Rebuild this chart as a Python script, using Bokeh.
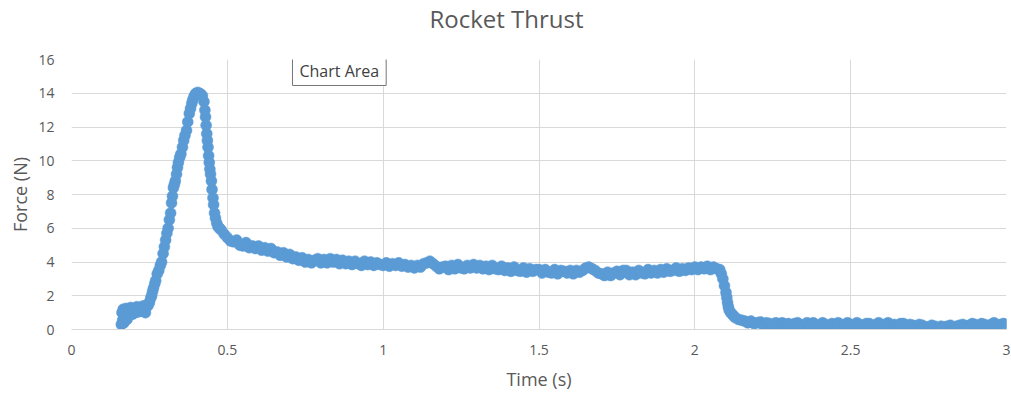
from bokeh.plotting import figure
from bokeh.models import FixedTicker, NumeralTickFormatter, Label, Title
from bokeh.embed import file_html
from bokeh.resources import INLINE

# ---------------- data ----------------
x_ticks = [0, 0.5, 1, 1.5, 2, 2.5, 3]
y_ticks = [0, 2, 4, 6, 8, 10, 12, 14, 16]

t_ignition = [0.160, 0.162, 0.164, 0.166, 0.168, 0.170, 0.172, 0.175, 0.178, 0.180,
              0.185, 0.190, 0.195, 0.200, 0.205, 0.210, 0.215, 0.220, 0.225, 0.230, 0.235]
f_ignition = [0.30, 1.00, 0.55, 1.20, 0.40, 1.10, 0.70, 1.25, 0.60, 1.20,
              0.85, 1.30, 0.90, 1.25, 1.00, 1.35, 1.05, 1.30, 1.10, 1.40, 1.10]

t_rise = [0.237, 0.241, 0.245, 0.250, 0.254, 0.257, 0.260, 0.263, 0.267, 0.270,
          0.275, 0.280, 0.285, 0.289, 0.294, 0.298, 0.302, 0.306, 0.310, 0.314,
          0.318, 0.321, 0.324, 0.327, 0.330, 0.333, 0.337, 0.340, 0.343, 0.347,
          0.351, 0.356, 0.360, 0.364, 0.369, 0.373, 0.378, 0.382, 0.386, 0.389,
          0.393, 0.397]
f_rise = [1.00, 1.45, 1.40, 1.60, 1.85, 2.00, 2.25, 2.45, 2.70, 2.90,
          3.30, 3.50, 3.80, 4.00, 4.50, 4.90, 5.30, 5.70, 6.00, 6.50,
          6.90, 7.50, 7.90, 8.40, 8.60, 8.80, 9.20, 9.60, 9.90, 10.20,
          10.40, 10.80, 11.20, 11.50, 11.80, 12.30, 12.80, 13.10, 13.40, 13.60,
          13.80, 13.95]

t_peak = [0.400, 0.405, 0.410, 0.415, 0.420, 0.425, 0.428, 0.430, 0.432, 0.434,
          0.436, 0.438, 0.440, 0.442, 0.444, 0.446, 0.449, 0.451, 0.454, 0.456,
          0.459, 0.462, 0.466, 0.470, 0.475]
f_peak = [14.00, 14.05, 14.00, 13.95, 13.85, 13.50, 13.00, 12.60, 12.10, 11.60,
          11.20, 10.80, 10.30, 9.90, 9.50, 9.20, 8.80, 8.30, 7.80, 7.40,
          6.90, 6.60, 6.30, 6.10, 6.00]

t_sustain = [0.48, 0.49,
             0.50, 0.51, 0.52, 0.53, 0.54, 0.55, 0.56, 0.57, 0.58, 0.59,
             0.60, 0.61, 0.62, 0.63, 0.64, 0.65, 0.66, 0.67, 0.68, 0.69,
             0.70, 0.71, 0.72, 0.73, 0.74, 0.75, 0.76, 0.77, 0.78, 0.79,
             0.80, 0.81, 0.82, 0.83, 0.84, 0.85, 0.86, 0.87, 0.88, 0.89,
             0.90, 0.91, 0.92, 0.93, 0.94, 0.95, 0.96, 0.97, 0.98, 0.99,
             1.00, 1.01, 1.02, 1.03, 1.04, 1.05, 1.06, 1.07, 1.08, 1.09,
             1.10, 1.11, 1.12, 1.13, 1.14, 1.15, 1.16, 1.17, 1.18, 1.19,
             1.20, 1.21, 1.22, 1.23, 1.24, 1.25, 1.26, 1.27, 1.28, 1.29,
             1.30, 1.31, 1.32, 1.33, 1.34, 1.35, 1.36, 1.37, 1.38, 1.39,
             1.40, 1.41, 1.42, 1.43, 1.44, 1.45, 1.46, 1.47, 1.48, 1.49,
             1.50, 1.51, 1.52, 1.53, 1.54, 1.55, 1.56, 1.57, 1.58, 1.59,
             1.60, 1.61, 1.62, 1.63, 1.64, 1.65, 1.66, 1.67, 1.68, 1.69,
             1.70, 1.71, 1.72, 1.73, 1.74, 1.75, 1.76, 1.77, 1.78, 1.79,
             1.80, 1.81, 1.82, 1.83, 1.84, 1.85, 1.86, 1.87, 1.88, 1.89,
             1.90, 1.91, 1.92, 1.93, 1.94, 1.95, 1.96, 1.97, 1.98, 1.99,
             2.00, 2.01, 2.02, 2.03, 2.04, 2.05, 2.06, 2.07]
f_sustain = [5.90, 5.65,
             5.45, 5.25, 5.20, 5.30, 5.00, 4.95, 5.15, 4.85, 4.95, 4.80,
             4.95, 4.70, 4.85, 4.65, 4.80, 4.55, 4.60, 4.40, 4.55, 4.30,
             4.45, 4.20, 4.30, 4.10, 4.25, 4.00, 4.15, 3.95, 4.10, 4.20,
             3.95, 4.15, 3.95, 4.20, 4.00, 4.15, 3.90, 4.10, 3.90, 4.05,
             3.85, 4.05, 3.90, 3.80, 4.05, 3.85, 4.00, 3.80, 3.95, 3.85,
             3.80, 3.95, 3.75, 3.90, 3.80, 3.95, 3.75, 3.85, 3.70, 3.80,
             3.65, 3.80, 3.70, 3.90, 3.95, 4.05, 3.90, 3.75, 3.60, 3.70,
             3.75, 3.55, 3.80, 3.60, 3.85, 3.65, 3.60, 3.80, 3.65, 3.85,
             3.65, 3.80, 3.60, 3.75, 3.55, 3.80, 3.60, 3.55, 3.75, 3.50,
             3.65, 3.45, 3.70, 3.50, 3.45, 3.65, 3.40, 3.60, 3.45, 3.55,
             3.55, 3.35, 3.55, 3.40, 3.35, 3.55, 3.30, 3.50, 3.45, 3.35,
             3.50, 3.30, 3.50, 3.40, 3.50, 3.65, 3.70, 3.60, 3.50, 3.35,
             3.30, 3.20, 3.40, 3.20, 3.35, 3.45, 3.25, 3.50, 3.50, 3.25,
             3.40, 3.25, 3.50, 3.35, 3.30, 3.55, 3.35, 3.50, 3.35, 3.55,
             3.40, 3.60, 3.45, 3.50, 3.65, 3.45, 3.60, 3.50, 3.65, 3.55,
             3.70, 3.55, 3.70, 3.60, 3.75, 3.55, 3.70, 3.60]

t_burnout = [2.080, 2.085, 2.090, 2.095, 2.100, 2.1025, 2.105, 2.1075, 2.110, 2.115,
             2.120, 2.125, 2.130, 2.140, 2.150]
f_burnout = [3.55, 3.30, 3.00, 2.60, 2.20, 1.90, 1.60, 1.35, 1.15, 1.00,
             0.90, 0.80, 0.70, 0.60, 0.55]

t_tail = [2.16, 2.17, 2.18, 2.19,
          2.20, 2.21, 2.22, 2.23, 2.24, 2.25, 2.26, 2.27, 2.28, 2.29,
          2.30, 2.31, 2.32, 2.33, 2.34, 2.35, 2.36, 2.37, 2.38, 2.39,
          2.40, 2.41, 2.42, 2.43, 2.44, 2.45, 2.46, 2.47, 2.48, 2.49,
          2.50, 2.51, 2.52, 2.53, 2.54, 2.55, 2.56, 2.57, 2.58, 2.59,
          2.60, 2.61, 2.62, 2.63, 2.64, 2.65, 2.66, 2.67, 2.68, 2.69,
          2.70, 2.71, 2.72, 2.73, 2.74, 2.75, 2.76, 2.77, 2.78, 2.79,
          2.80, 2.81, 2.82, 2.83, 2.84, 2.85, 2.86, 2.87, 2.88, 2.89,
          2.90, 2.91, 2.92, 2.93, 2.94, 2.95, 2.96, 2.97, 2.98, 2.99,
          3.00]
f_tail = [0.50, 0.40, 0.50, 0.35,
          0.40, 0.45, 0.25, 0.40, 0.35, 0.25, 0.40, 0.25, 0.40, 0.30,
          0.35, 0.20, 0.35, 0.40, 0.25, 0.25, 0.40, 0.30, 0.40, 0.25,
          0.25, 0.40, 0.30, 0.20, 0.35, 0.30, 0.40, 0.20, 0.30, 0.40,
          0.30, 0.20, 0.40, 0.30, 0.20, 0.35, 0.35, 0.20, 0.30, 0.40,
          0.25, 0.30, 0.40, 0.20, 0.30, 0.20, 0.35, 0.35, 0.20, 0.30,
          0.25, 0.15, 0.30, 0.25, 0.15, 0.15, 0.25, 0.20, 0.10, 0.20,
          0.15, 0.20, 0.25, 0.10, 0.20, 0.25, 0.30, 0.15, 0.25, 0.35,
          0.30, 0.20, 0.35, 0.30, 0.20, 0.30, 0.40, 0.25, 0.30, 0.35,
          0.30]

time_s = t_ignition + t_rise + t_peak + t_sustain + t_burnout + t_tail
force_n = f_ignition + f_rise + f_peak + f_sustain + f_burnout + f_tail

# ---------------- styling ----------------
FONT = "Open Sans"
TXT = "#595959"
GRID = "#d9d9d9"
BLUE = "#5b9bd5"

p = figure(width=1011, height=396, x_range=(0, 3), y_range=(0, 16), title=None,
           output_backend="svg", toolbar_location=None,
           min_border_left=71, min_border_right=5, min_border_top=59, min_border_bottom=67)

# blank (white) spacer panel next to the frame, then the real title above it
p.add_layout(Title(text=" ", text_font=FONT, text_font_size="15px", text_color="white",
                   standoff=1), "above")
p.add_layout(Title(text="Rocket Thrust", text_font=FONT, text_font_size="24px",
                   text_font_style="normal", text_color=TXT, align="left", offset=358,
                   vertical_align="top", standoff=0), "above")

p.outline_line_color = None
p.background_fill_color = "white"
p.border_fill_color = "white"

p.xaxis.ticker = FixedTicker(ticks=x_ticks)
p.yaxis.ticker = FixedTicker(ticks=y_ticks)
p.xaxis.formatter = NumeralTickFormatter(format="0.[0]")
p.xgrid.ticker = FixedTicker(ticks=x_ticks)
p.ygrid.ticker = FixedTicker(ticks=y_ticks)
p.xgrid.grid_line_color = GRID
p.ygrid.grid_line_color = GRID

for ax in (p.xaxis, p.yaxis):
    ax.major_tick_line_color = None
    ax.minor_tick_line_color = None
    ax.major_tick_out = 0
    ax.major_tick_in = 0
    ax.major_label_text_font = FONT
    ax.major_label_text_font_size = "14px"
    ax.major_label_text_color = TXT
    ax.axis_label_text_font = FONT
    ax.axis_label_text_font_size = "18px"
    ax.axis_label_text_font_style = "normal"
    ax.axis_label_text_color = TXT

p.xaxis.axis_line_color = GRID
p.yaxis.axis_line_color = None
p.xaxis.axis_label = "Time (s)"
p.yaxis.axis_label = "Force (N)"
p.xaxis.major_label_standoff = 15
p.xaxis.axis_label_standoff = 9
p.yaxis.major_label_standoff = 17
p.yaxis.axis_label_standoff = 3

p.scatter(time_s, force_n, size=11, fill_color=BLUE, line_color=BLUE, line_width=0.5)

# "Chart Area" hover tip seen in the reference
shadow = Label(x=0.709, y=16.12, text="Chart Area", text_font=FONT, text_font_size="16px",
               text_alpha=0, text_align="left", text_baseline="top",
               background_fill_color="#000000", background_fill_alpha=0.25,
               x_offset=3, y_offset=-3, padding=dict(x=7, y=3))
tip = Label(x=0.709, y=16.12, text="Chart Area", text_font=FONT, text_font_size="16px",
            text_color="#404040", text_align="left", text_baseline="top",
            background_fill_color="white", border_line_color="#767676", border_line_width=1,
            padding=dict(x=7, y=3))
p.add_layout(shadow)
p.add_layout(tip)

open("out.html", "w").write(file_html(p, INLINE))
